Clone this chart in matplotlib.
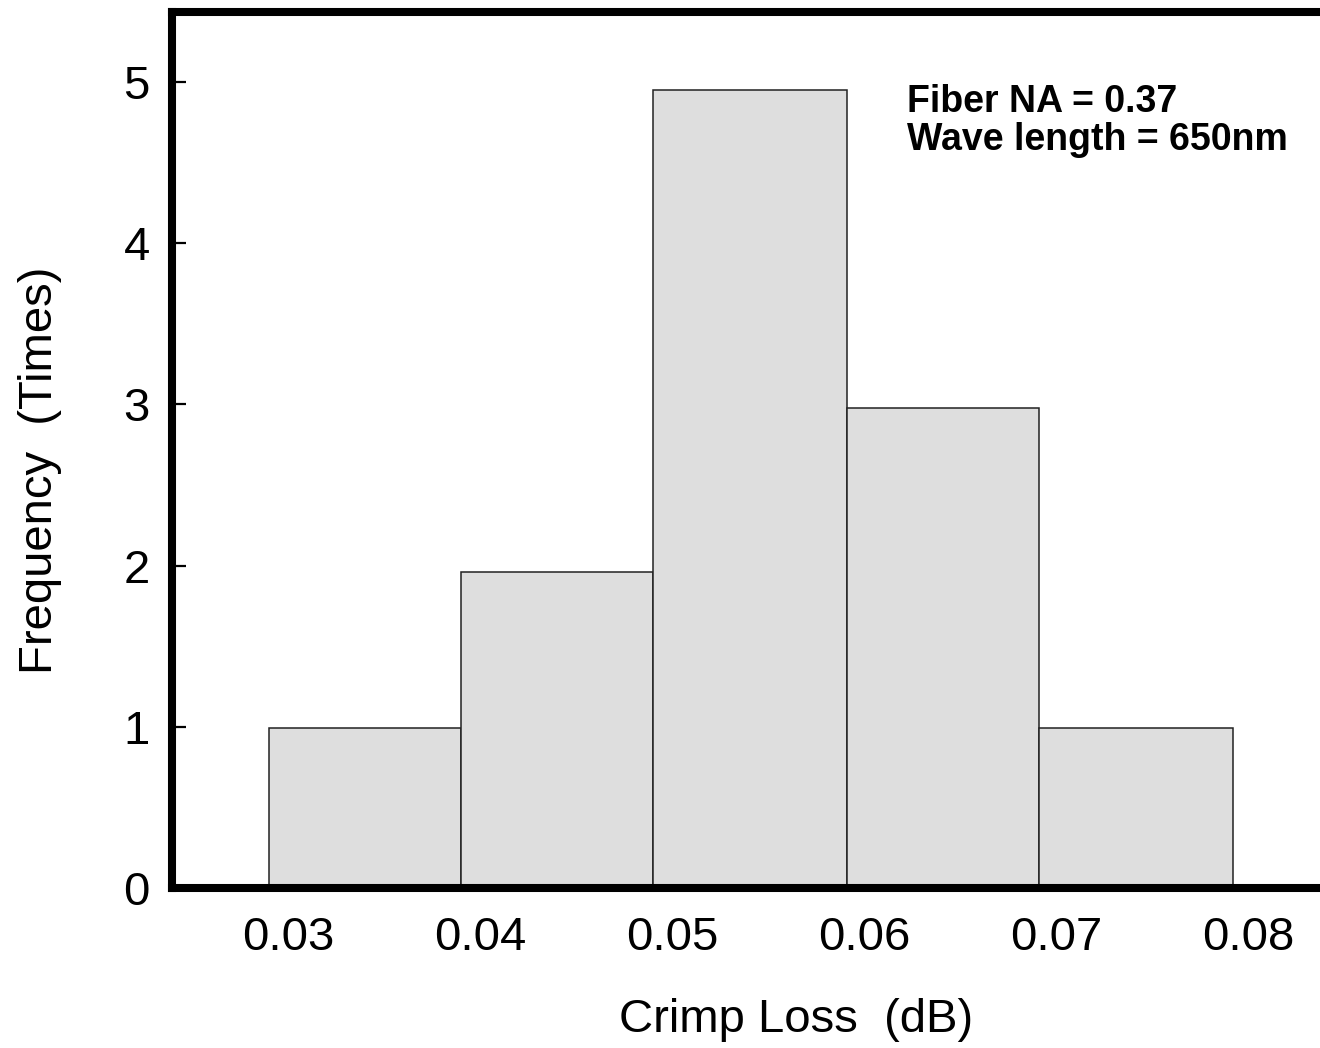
import numpy as np
import matplotlib
matplotlib.use("Agg")
import matplotlib.pyplot as plt

plt.rcParams['font.family'] = ['Liberation Sans', 'DejaVu Sans']

# histogram bin edges and counts
bin_edges = [0.029, 0.039, 0.049, 0.0591, 0.0691, 0.0792]
counts = [0.99, 1.96, 4.95, 2.98, 0.99]
xticks = [0.03, 0.04, 0.05, 0.06, 0.07, 0.08]
yticks = [0, 1, 2, 3, 4, 5]

fig = plt.figure(figsize=(13.2, 10.48), dpi=100)
ax = fig.add_axes([172/1320, 1 - 888/1048, 1158/1320, 876/1048])

edges = np.array(bin_edges)
ax.bar(edges[:-1], counts, width=np.diff(edges), align='edge',
       color='#dedede', edgecolor='#222222', linewidth=1.1, zorder=2)

ax.set_xlim(0.02396, 0.02396 + 1158/19200)
ax.set_ylim(0, 876/161.2)
ax.set_xticks(xticks)
ax.set_xticklabels([f"{v:.2f}" for v in xticks])
ax.set_yticks(yticks)

for s in ['left', 'bottom', 'top']:
    ax.spines[s].set_linewidth(5.8)
    ax.spines[s].set_zorder(3)
ax.spines['right'].set_visible(False)

ax.tick_params(axis='y', direction='in', length=10, width=1.6,
               labelsize=34, pad=16)
ax.tick_params(axis='x', length=0, labelsize=34, pad=20)

fig.text(796/1320, 1 - 1020/1048, 'Crimp Loss  (dB)', fontsize=34,
         ha='center', va='center')
fig.text(40/1320, 1 - 470/1048, 'Frequency  (Times)', fontsize=34,
         ha='center', va='center', rotation=90)

fig.text(907/1320, 1 - 121/1048, 'Fiber NA = 0.37\nWave length = 650nm',
         fontsize=27, fontweight='bold', ha='left', va='center',
         linespacing=1.1)

fig.savefig('out.png', dpi=100)
